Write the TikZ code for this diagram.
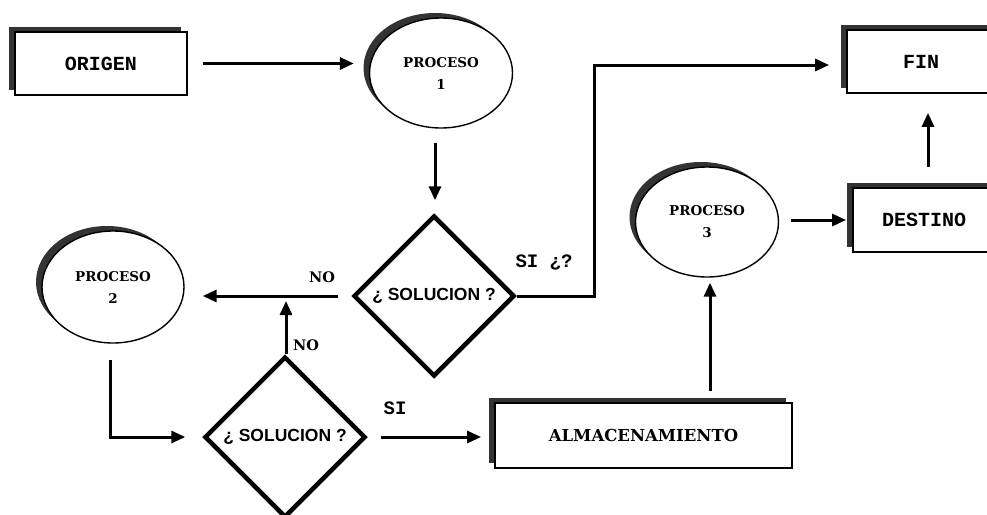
\documentclass[tikz,border=0pt]{standalone}
\usepackage{fontspec}
\newfontfamily\monof{Liberation Mono}
\newfontfamily\slabf{DejaVu Serif}
\newfontfamily\heavyf{Liberation Sans}
\usetikzlibrary{shapes.geometric,shadows,arrows.meta}
\begin{document}
\begin{tikzpicture}[x=1pt,y=-1pt,
  shad/.style={general shadow={shadow xshift=-6pt,shadow yshift=5pt,fill=black!80}},
  boxnode/.style={rectangle,draw,line width=1.8pt,fill=white,shad,inner sep=0pt,
    font=\monof\bfseries\fontsize{20}{22}\selectfont},
  procnode/.style={ellipse,draw,line width=1.4pt,fill=white,shad,inner sep=0pt,align=center,
    font=\slabf\bfseries\fontsize{13.5}{22}\selectfont},
  decnode/.style={diamond,draw,line width=4.5pt,fill=white,aspect=1,inner sep=0pt,
    minimum width=161pt,minimum height=161pt,
    font=\heavyf\bfseries\fontsize{17.5}{19}\selectfont},
  arr/.style={line width=3pt,-{Triangle[length=14pt,width=12pt]}},
  monolbl/.style={inner sep=0pt,font=\monof\bfseries\fontsize{19}{21}\selectfont},
  slablbl/.style={inner sep=0pt,font=\slabf\bfseries\fontsize{14.5}{16}\selectfont}]
\clip (0,0) rectangle (987,514);
\fill[white] (0,0) rectangle (987,514);

% nodes
\node[boxnode,minimum width=172pt,minimum height=63pt] (origen) at (101,63.5) {ORIGEN};
\node[procnode,minimum width=143pt,minimum height=110pt] (p1) at (441,73) {PROCESO\\1};
\node[decnode] (d1) at (434,296) {¿ SOLUCION ?};
\node[boxnode,minimum width=148pt,minimum height=63pt] (fin) at (921,61.5) {FIN};
\node[boxnode,minimum width=142pt,minimum height=64pt] (destino) at (924,220) {DESTINO};
\node[procnode,minimum width=143pt,minimum height=110pt] (p3) at (707,222) {PROCESO\\3};
\node[boxnode,minimum width=297pt,minimum height=65pt,
  font=\slabf\bfseries\fontsize{16.5}{19}\selectfont] (almac) at (643.5,435.5) {ALMACENAMIENTO};
\node[decnode] (d2) at (285,437) {¿ SOLUCION ?};
\node[procnode,minimum width=142pt,minimum height=112pt] (p2) at (113,287) {PROCESO\\2};

% labels
\node[slablbl] (no1) at (322,277) {NO};
\node[slablbl] (no2) at (306,345) {NO};
\node[monolbl] (si1) at (544,262) {SI ¿?};
\node[monolbl] (si2) at (395,408) {SI};

% connectors
\draw[arr,shorten <=15pt,shorten >=15pt] (origen.east) -- (origen.east -| p1.west);
\draw[arr,shorten <=14pt,shorten >=13pt] ([xshift=-6pt]p1.south) -- ([xshift=-6pt]p1.south |- d1.north);
\draw[arr,shorten >=17pt] (d1.east) -- ++(78,0) |- ([yshift=-3.5pt]fin.west);
\draw[arr,shorten <=20pt,shorten >=19pt] ([xshift=4pt]destino.north) -- ([xshift=4pt]destino.north |- fin.south);
\draw[arr,shorten <=12pt,shorten >=6pt] ([yshift=2pt]p3.east) -- ([yshift=2pt]p3.east -| destino.west);
\draw[arr,shorten <=11pt,shorten >=5pt] ([xshift=3pt]p3.south |- almac.north) -- ([xshift=3pt]p3.south);
\draw[arr,shorten <=13pt,shorten >=13pt] (d2.east) -- (d2.east -| almac.west);
\draw[arr,shorten >=5pt] ([xshift=1pt]d2.north) -- ([xshift=1pt]d2.north |- d1.west);
\draw[arr,shorten <=13pt,shorten >=18pt] (d1.west) -- (d1.west -| p2.east);
\draw[arr,shorten <=16pt,shorten >=17pt] ([xshift=-3pt]p2.south) |- (d2.west);
\end{tikzpicture}
\end{document}
